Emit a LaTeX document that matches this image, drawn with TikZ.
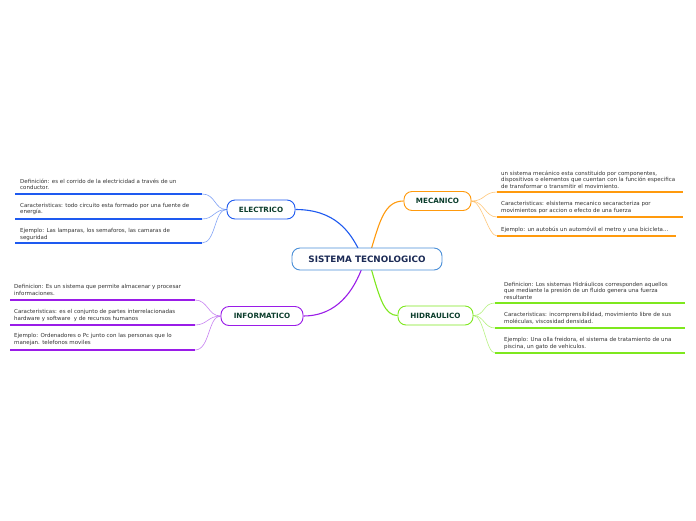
\documentclass[tikz,border=0pt]{standalone}
\usepackage{fontspec}
\setmainfont{DejaVu Sans}
\usetikzlibrary{backgrounds}
\begin{document}
\begin{tikzpicture}[x=1pt,y=-1pt,
  topic/.style={draw,line width=0.9pt,rounded corners=8pt,fill=white,minimum height=19pt,inner xsep=6pt,font=\fontsize{7.2}{8}\selectfont\bfseries,text=tgreen},
  leaf/.style={anchor=north west,inner sep=0pt,align=left,font=\fontsize{5.5}{6.6}\selectfont,text=tgray},
  uline/.style={line width=1.3pt},
  twig/.style={line width=0.6pt,opacity=0.55},
  branch/.style={line width=1.1pt}]
\definecolor{tgreen}{HTML}{0B3D2C}
\definecolor{tgray}{HTML}{333333}
\definecolor{tnavy}{HTML}{1B2A55}
\definecolor{cblue}{HTML}{1E5AF0}
\definecolor{corange}{HTML}{FF9A0D}
\definecolor{cgreen}{HTML}{7EE81E}
\definecolor{cpurple}{HTML}{9A1CE8}
\definecolor{croot}{HTML}{4A8FD8}
\useasboundingbox (0,0) rectangle (696,520);

% root
\node[topic,draw=croot,text=tnavy,minimum width=150pt,minimum height=22pt,font=\fontsize{8.8}{9}\selectfont\bfseries] (root) at (367,259) {SISTEMA TECNOLOGICO};

% topics
\node[topic,draw=cblue,minimum width=68pt] (ele) at (261,209.5) {ELECTRICO};
\node[topic,draw=corange,minimum width=67pt] (mec) at (437.5,201) {MECANICO};
\node[topic,draw=cgreen,minimum width=75pt] (hid) at (435.5,315.5) {HIDRAULICO};
\node[topic,draw=cpurple,minimum width=82pt] (inf) at (262,316) {INFORMATICO};

% branches
\coordinate (rE) at (359,250);
\coordinate (rM) at (371,250);
\coordinate (rH) at (371,268);
\coordinate (rI) at (362,268);
\begin{scope}[on background layer]
\fill[white] (0,0) rectangle (696,520);
\draw[branch,cblue] (ele.east) .. controls (335,209.5) and (350,232) .. (rE);
\draw[branch,corange] (rM) .. controls (380,220) and (385,201) .. (mec.west);
\draw[branch,cgreen] (rH) .. controls (380,300) and (385,315.5) .. (hid.west);
\draw[branch,cpurple] (rI) .. controls (350,300) and (330,316) .. (inf.east);
\end{scope}

% ELECTRICO leaves
\node[leaf] (e1) at (20,178.5) {Definición: es el corrido de la electricidad a través de un\\conductor.};
\node[leaf] (e2) at (20,203) {Caracteristicas: todo circuito esta formado por una fuente de\\energía.};
\node[leaf] (e3) at (20,228.5) {Ejemplo: Las lamparas, los semaforos, las camaras de\\seguridad};
\coordinate (e1a) at (15,194); \coordinate (e1b) at (202,194);
\coordinate (e2a) at (15,219); \coordinate (e2b) at (202,219);
\coordinate (e3a) at (15,243); \coordinate (e3b) at (202,243);
\draw[uline,cblue] (e1a) -- (e1b);
\draw[uline,cblue] (e2a) -- (e2b);
\draw[uline,cblue] (e3a) -- (e3b);
\draw[twig,cblue] (ele.west) .. controls (214,209.5) and (216,194) .. (e1b);
\draw[twig,cblue] (ele.west) .. controls (214,209.5) and (214,219) .. (e2b);
\draw[twig,cblue] (ele.west) .. controls (214,209.5) and (216,243) .. (e3b);

% MECANICO leaves
\node[leaf] (m1) at (501,170.5) {un sistema mecánico esta constituido por componentes,\\dispositivos o elementos que cuentan con la función especifica\\de transformar o transmitir el movimiento.};
\node[leaf] (m2) at (501,201.5) {Caracteristicas: elsistema mecanico secaracteriza por\\movimientos por accion o efecto de una fuerza};
\node[leaf] (m3) at (501,226.5) {Ejemplo: un autobús un automóvil el metro y una bicicleta...};
\coordinate (m1a) at (497,192); \coordinate (m1b) at (683,192);
\coordinate (m2a) at (497,217); \coordinate (m2b) at (683,217);
\coordinate (m3a) at (497,236); \coordinate (m3b) at (676,236);
\draw[uline,corange] (m1a) -- (m1b);
\draw[uline,corange] (m2a) -- (m2b);
\draw[uline,corange] (m3a) -- (m3b);
\draw[twig,corange] (mec.east) .. controls (485,201) and (484,192) .. (m1a);
\draw[twig,corange] (mec.east) .. controls (484,201) and (485,217) .. (m2a);
\draw[twig,corange] (mec.east) .. controls (482,201) and (488,236) .. (m3a);

% HIDRAULICO leaves
\node[leaf] (h1) at (504,281.5) {Definicion: Los sistemas Hidráulicos corresponden aquellos\\que mediante la presión de un fluido genera una fuerza\\resultante};
\node[leaf] (h2) at (504,312.5) {Caracteristicas: incomprensibilidad, movimiento libre de sus\\moléculas, viscosidad densidad.};
\node[leaf] (h3) at (504,337.5) {Ejemplo: Una olla freidora, el sistema de tratamiento de una\\piscina, un gato de vehiculos.};
\coordinate (h1a) at (495,303); \coordinate (h1b) at (685,303);
\coordinate (h2a) at (495,328); \coordinate (h2b) at (685,328);
\coordinate (h3a) at (495,353); \coordinate (h3b) at (685,353);
\draw[uline,cgreen] (h1a) -- (h1b);
\draw[uline,cgreen] (h2a) -- (h2b);
\draw[uline,cgreen] (h3a) -- (h3b);
\draw[twig,cgreen] (hid.east) .. controls (485,315.5) and (483,303) .. (h1a);
\draw[twig,cgreen] (hid.east) .. controls (484,315.5) and (484,328) .. (h2a);
\draw[twig,cgreen] (hid.east) .. controls (484,315.5) and (486,353) .. (h3a);

% INFORMATICO leaves
\node[leaf] (i1) at (14,284.5) {Definicion: Es un sistema que permite almacenar y procesar\\informaciones.};
\node[leaf] (i2) at (14,309.5) {Caracteristicas: es el conjunto de partes interrelacionadas\\hardware y software\ \ y de recursos humanos};
\node[leaf] (i3) at (14,333.5) {Ejemplo: Ordenadores o Pc junto con las personas que lo\\manejan. telefonos moviles};
\coordinate (i1a) at (10,300); \coordinate (i1b) at (195,300);
\coordinate (i2a) at (10,325); \coordinate (i2b) at (195,325);
\coordinate (i3a) at (10,350); \coordinate (i3b) at (195,350);
\draw[uline,cpurple] (i1a) -- (i1b);
\draw[uline,cpurple] (i2a) -- (i2b);
\draw[uline,cpurple] (i3a) -- (i3b);
\draw[twig,cpurple] (inf.west) .. controls (208,316) and (208,300) .. (i1b);
\draw[twig,cpurple] (inf.west) .. controls (208,316) and (207,325) .. (i2b);
\draw[twig,cpurple] (inf.west) .. controls (208,316) and (210,350) .. (i3b);
\end{tikzpicture}
\end{document}
